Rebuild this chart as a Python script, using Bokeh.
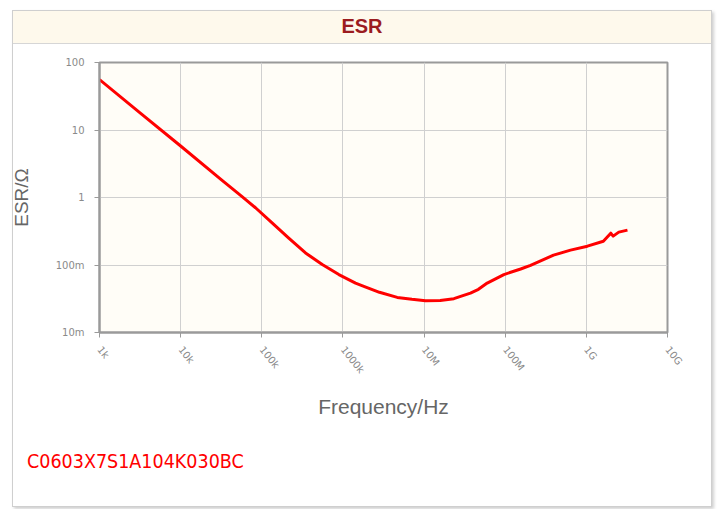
import math
from bokeh.plotting import figure
from bokeh.models import FixedTicker, Div, ColumnDataSource
from bokeh.layouts import column
from bokeh.embed import file_html
from bokeh.resources import INLINE

# ---- data ----
title_text = "ESR"
part_number = "C0603X7S1A104K030BC"
x_label = "Frequency/Hz"
y_label = "ESR/Ω"

x_ticks = [1e3, 1e4, 1e5, 1e6, 1e7, 1e8, 1e9, 1e10]
x_tick_labels = ["1k", "10k", "100k", "1000k", "10M", "100M", "1G", "10G"]
y_ticks = [0.01, 0.1, 1.0, 10.0, 100.0]
y_tick_labels = ["10m", "100m", "1", "10", "100"]

freq_hz = [1.0e3, 3.16e3, 1.0e4, 3.16e4, 5.62e4, 8.37e4, 1.34e5, 2.15e5, 3.46e5,
           5.56e5, 8.91e5, 1.43e6, 1.81e6, 2.82e6, 4.67e6, 7.08e6, 1.04e7,
           1.58e7, 2.33e7, 2.82e7, 3.73e7, 4.68e7, 6.0e7, 9.62e7, 1.55e8,
           2.05e8, 3.94e8, 6.38e8, 1.03e9, 1.62e9, 2.0e9, 2.14e9, 2.51e9, 3.21e9]
esr_ohm = [55.9, 17.9, 5.8, 1.84, 1.05, 0.705, 0.422, 0.25, 0.151,
           0.1016, 0.0721, 0.054, 0.0483, 0.0394, 0.0331, 0.031, 0.0296,
           0.0299, 0.0317, 0.0343, 0.0384, 0.0436, 0.054, 0.0721, 0.0873,
           0.099, 0.140, 0.166, 0.19, 0.225, 0.296, 0.268, 0.307, 0.329]

src = ColumnDataSource(data=dict(f=freq_hz, r=esr_ohm))

p = figure(width=698, height=386, x_axis_type="log", y_axis_type="log",
           x_range=(x_ticks[0], x_ticks[-1]), y_range=(y_ticks[0], y_ticks[-1]),
           output_backend="svg", toolbar_location=None, margin=(0, 0, 0, -9),
           min_border_left=95, min_border_right=35, min_border_top=17, min_border_bottom=99)

p.line("f", "r", source=src, line_color="#ff0000", line_width=3, line_join="round")

p.background_fill_color = "#fffdf7"
p.border_fill_alpha = 0
p.outline_line_color = "#9a9a9a"
p.outline_line_width = 2

p.xaxis.ticker = FixedTicker(ticks=x_ticks)
p.yaxis.ticker = FixedTicker(ticks=y_ticks)
p.xaxis.major_label_overrides = dict(zip(x_ticks, x_tick_labels))
p.yaxis.major_label_overrides = dict(zip(y_ticks, y_tick_labels))
p.xaxis.major_label_orientation = -0.9

for ax in (p.xaxis, p.yaxis):
    ax.axis_line_color = "#9a9a9a"
    ax.axis_line_width = 2
    ax.major_tick_line_color = "#9a9a9a"
    ax.major_tick_out = 5
    ax.major_tick_in = 0
    ax.minor_tick_out = 0
    ax.minor_tick_in = 0
    ax.major_label_text_font = "DejaVu Sans"
    ax.major_label_text_font_size = "10px"
    ax.major_label_text_color = "#8a8a8a"
    ax.axis_label_text_font = "Liberation Sans"
    ax.axis_label_text_font_style = "normal"
    ax.axis_label_text_color = "#666666"

p.xaxis.axis_label = x_label
p.yaxis.axis_label = y_label
p.xaxis.axis_label_text_font_size = "21px"
p.yaxis.axis_label_text_font_size = "19px"
p.xaxis.axis_label_standoff = 13
p.yaxis.axis_label_standoff = 21
p.xaxis.major_label_standoff = 10
p.yaxis.major_label_standoff = 10

p.grid.grid_line_color = "#d0d0d0"
p.grid.grid_line_width = 1

title_div = Div(
    text=f'<div style="width:698px;height:33px;line-height:31px;text-align:center;'
         f'background-color:#fef9ec;border-bottom:1px solid #d6d6d6;'
         f'font-family:\'Liberation Sans\',sans-serif;font-weight:bold;font-size:20px;'
         f'color:#9b1c1f;">{title_text}</div>',
    width=698, height=34, margin=0)

part_div = Div(
    text=f'<div style="padding-left:14px;padding-top:17px;color:#ff0000;'
         f'font-family:\'DejaVu Sans\',sans-serif;font-stretch:condensed;font-size:19.5px;">'
         f'{part_number}</div>',
    width=698, height=75, margin=0)

layout = column(title_div, p, part_div,
                styles={"border": "1px solid #cfcfcf",
                        "box-shadow": "2px 2px 3px #d0d0d0",
                        "background-color": "white"},
                margin=(10, 0, 0, 12))

open("out.html", "w").write(file_html(layout, INLINE))
